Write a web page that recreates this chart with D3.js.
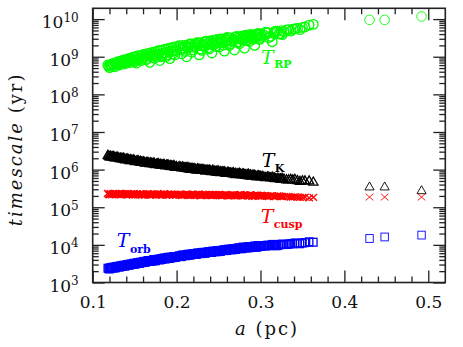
<!DOCTYPE html>
<html>
<head>
<meta charset="utf-8">
<script src="https://cdn.jsdelivr.net/npm/d3@7"></script>
<style>
  body { margin: 0; background: #fff; }
  svg { display: block; }
</style>
</head>
<body>
<div id="viz"></div>
<script>
// semi-major axis a (pc) of every star in the plot
var aVals = [
  0.118,0.120,0.122,0.124,0.126,0.128,0.130,0.132,0.134,0.136,
  0.138,0.140,0.142,0.144,0.146,0.148,0.150,0.152,0.154,0.156,
  0.158,0.160,0.162,0.164,0.166,0.168,0.170,0.172,0.174,0.176,
  0.178,0.180,0.182,0.184,0.186,0.188,0.190,0.192,0.194,0.196,
  0.198,0.200,0.203,0.206,0.209,0.212,0.215,0.218,0.221,0.224,
  0.227,0.230,0.233,0.236,0.239,0.242,0.245,0.248,0.251,0.254,
  0.257,0.260,0.263,0.266,0.269,0.272,0.275,0.278,0.281,0.284,
  0.287,0.290,0.293,0.296,0.299,0.302,0.306,0.310,0.314,0.318,
  0.322,0.326,0.331,0.336,0.341,0.347,0.353,0.358,0.363,0.430,
  0.448,0.492,
  0.119,0.121,0.123,0.125,0.127,0.129,0.131,0.133,0.135,0.137,
  0.139,0.141,0.143,0.145,0.147,0.149,0.151,0.153,0.155,0.157,
  0.159,0.161,0.163,0.165,0.167,0.169,0.171,0.173,0.175,0.177,
  0.179,0.181,0.183,0.185,0.187,0.189,0.191,0.193,0.195,0.197,
  0.199,
  0.2045,0.2075,0.2105,0.2135,0.2165,0.2195,0.2225,0.2255,0.2285,0.2315,
  0.2345,0.2375,0.2405,0.2435,0.2465,0.2495,0.2525,0.2555,0.2585,0.2615,
  0.2645,0.2675,0.2705,0.2735,0.2765,0.2795,0.2825,0.2855,0.2885,0.2915,
  0.2945,0.2975,0.3005,
  0.304,0.308,0.312,0.316,0.320,0.324,0.328,
  0.204,0.207,0.210,0.213,0.216,0.219,0.222,0.225,0.228,0.231,
  0.234,0.237,0.240,0.243,0.246,0.249,0.252,0.255,0.258,0.261,
  0.264,0.267,0.270,0.273,0.276,0.279,0.282,0.285,0.288,0.291,
  0.294,0.297,0.300,
  0.3085,0.3165,0.3245,0.3335,0.3385,0.344,0.350
];

// log10 of each timescale (yr), one value per entry of aVals
var logTRP = [
  8.78,8.71,8.76,8.82,8.73,8.79,8.87,8.78,8.83,8.91,
  8.81,8.88,8.95,8.84,8.91,8.99,8.87,8.83,9.03,8.96,
  8.90,9.06,9.00,8.92,9.09,8.85,9.03,9.12,8.96,9.06,
  9.16,8.90,9.00,9.19,9.11,9.01,9.22,8.95,9.14,9.25,
  9.05,9.17,9.29,9.08,9.20,9.00,9.33,9.12,9.25,9.37,
  9.05,9.17,9.29,9.41,9.21,9.10,9.33,9.46,9.26,9.37,
  9.15,9.51,9.30,9.41,9.18,9.54,9.35,9.45,9.23,9.58,
  9.41,9.50,9.30,9.61,9.46,9.55,9.65,9.51,9.40,9.68,
  9.61,9.59,9.71,9.68,9.74,9.72,9.79,9.84,9.86,9.98,
  9.98,10.07,
  8.75,8.79,8.75,8.79,8.84,8.78,8.83,8.88,8.82,8.86,
  8.92,8.85,8.90,8.96,8.88,8.93,9.00,8.91,8.96,9.03,
  8.93,8.99,9.06,8.95,9.02,9.10,8.98,9.05,9.13,9.01,
  9.07,9.17,9.03,9.10,9.20,9.05,9.13,9.23,9.07,9.16,
  9.26,
  9.19,9.30,9.14,9.23,9.34,9.18,9.27,9.37,9.21,9.30,
  9.41,9.24,9.33,9.44,9.28,9.37,9.47,9.31,9.40,9.50,
  9.35,9.43,9.53,9.39,9.47,9.56,9.43,9.50,9.59,9.47,
  9.53,9.61,9.51,
  9.58,9.64,9.54,9.62,9.68,9.61,9.67,
  9.28,9.23,9.30,9.26,9.33,9.29,9.35,9.31,9.37,9.33,
  9.40,9.35,9.42,9.37,9.44,9.40,9.46,9.42,9.48,9.44,
  9.50,9.46,9.52,9.49,9.54,9.51,9.56,9.53,9.58,9.55,
  9.59,9.57,9.61,
  9.64,9.66,9.69,9.72,9.73,9.76,9.78
];
var logTK = [
  6.38,6.34,6.34,6.35,6.32,6.33,6.33,6.29,6.30,6.30,
  6.27,6.28,6.28,6.24,6.25,6.25,6.23,6.23,6.24,6.20,
  6.20,6.21,6.18,6.19,6.19,6.16,6.17,6.17,6.14,6.15,
  6.16,6.12,6.13,6.13,6.11,6.12,6.12,6.09,6.10,6.10,
  6.07,6.08,6.08,6.05,6.05,6.05,6.02,6.03,6.03,5.99,
  6.00,6.00,5.98,5.98,5.99,5.95,5.96,5.96,5.93,5.94,
  5.94,5.90,5.91,5.91,5.89,5.89,5.90,5.86,5.87,5.87,
  5.84,5.85,5.85,5.81,5.82,5.82,5.79,5.80,5.80,5.76,
  5.76,5.76,5.73,5.74,5.74,5.69,5.70,5.70,5.67,5.54,
  5.54,5.44,
  6.36,6.36,6.33,6.35,6.31,6.32,6.31,6.31,6.28,6.31,
  6.26,6.28,6.26,6.27,6.24,6.26,6.21,6.23,6.22,6.22,
  6.19,6.21,6.17,6.19,6.17,6.18,6.15,6.18,6.13,6.15,
  6.14,6.14,6.12,6.14,6.10,6.12,6.10,6.11,6.08,6.11,
  6.06,
  6.07,6.07,6.04,6.06,6.01,6.03,6.01,6.02,5.99,6.01,
  5.96,5.98,5.97,5.97,5.94,5.97,5.92,5.94,5.92,5.93,
  5.90,5.92,5.87,5.89,5.88,5.88,5.85,5.88,5.83,5.85,
  5.83,5.83,5.81,
  5.81,5.80,5.78,5.78,5.77,5.75,5.75,
  6.06,6.07,6.05,6.03,6.04,6.02,6.00,6.02,6.00,5.98,
  5.99,5.98,5.96,5.98,5.95,5.93,5.95,5.93,5.91,5.93,
  5.91,5.89,5.90,5.89,5.87,5.89,5.86,5.84,5.86,5.84,
  5.82,5.84,5.82,
  5.80,5.77,5.76,5.73,5.73,5.71,5.70
];
var logTcusp = [
  5.37,5.33,5.35,5.36,5.34,5.36,5.34,5.37,5.33,5.35,
  5.36,5.33,5.36,5.34,5.36,5.32,5.34,5.35,5.33,5.35,
  5.33,5.36,5.32,5.34,5.35,5.33,5.35,5.33,5.35,5.32,
  5.34,5.35,5.32,5.34,5.35,5.32,5.35,5.33,5.34,5.32,
  5.35,5.33,5.35,5.31,5.33,5.34,5.32,5.34,5.31,5.33,
  5.35,5.31,5.33,5.32,5.34,5.31,5.33,5.32,5.34,5.30,
  5.32,5.33,5.31,5.33,5.30,5.32,5.33,5.30,5.32,5.31,
  5.33,5.29,5.31,5.32,5.30,5.31,5.30,5.28,5.31,5.29,
  5.30,5.28,5.29,5.27,5.28,5.26,5.27,5.25,5.26,5.27,
  5.27,5.27,
  5.34,5.36,5.33,5.35,5.37,5.34,5.35,5.33,5.36,5.34,
  5.35,5.37,5.33,5.35,5.34,5.36,5.33,5.35,5.34,5.36,
  5.32,5.35,5.33,5.36,5.34,5.32,5.35,5.34,5.33,5.36,
  5.33,5.35,5.33,5.36,5.33,5.34,5.32,5.35,5.33,5.34,
  5.33,
  5.34,5.32,5.35,5.33,5.31,5.34,5.32,5.35,5.31,5.33,
  5.34,5.32,5.33,5.31,5.34,5.32,5.33,5.31,5.34,5.32,
  5.31,5.33,5.31,5.32,5.34,5.30,5.32,5.31,5.33,5.30,
  5.32,5.30,5.32,
  5.31,5.29,5.30,5.28,5.30,5.29,5.28,
  5.33,5.34,5.32,5.35,5.33,5.32,5.34,5.33,5.31,5.34,
  5.32,5.33,5.31,5.34,5.32,5.33,5.31,5.33,5.32,5.30,
  5.33,5.31,5.32,5.30,5.33,5.31,5.32,5.30,5.32,5.31,
  5.29,5.31,5.30,
  5.30,5.29,5.29,5.28,5.27,5.27,5.26
];
var logTorb = [
  3.38,3.36,3.39,3.40,3.39,3.42,3.43,3.41,3.44,3.45,
  3.44,3.46,3.48,3.46,3.48,3.50,3.49,3.51,3.53,3.51,
  3.53,3.55,3.54,3.56,3.58,3.56,3.58,3.60,3.58,3.61,
  3.62,3.60,3.62,3.64,3.63,3.65,3.67,3.64,3.67,3.68,
  3.67,3.69,3.71,3.69,3.72,3.74,3.73,3.75,3.77,3.75,
  3.77,3.79,3.78,3.80,3.82,3.80,3.82,3.84,3.83,3.85,
  3.87,3.85,3.88,3.89,3.88,3.91,3.92,3.90,3.93,3.94,
  3.93,3.95,3.97,3.94,3.97,3.98,3.97,3.99,4.01,3.98,
  4.00,4.02,4.01,4.03,4.05,4.03,4.06,4.08,4.07,4.17,
  4.21,4.26,
  3.37,3.39,3.38,3.41,3.39,3.42,3.42,3.44,3.43,3.46,
  3.44,3.47,3.47,3.49,3.48,3.51,3.49,3.52,3.52,3.54,
  3.53,3.56,3.54,3.57,3.57,3.58,3.57,3.61,3.58,3.61,
  3.61,3.63,3.62,3.65,3.63,3.65,3.66,3.67,3.66,3.69,
  3.67,
  3.70,3.72,3.71,3.75,3.73,3.76,3.76,3.78,3.77,3.80,
  3.78,3.81,3.81,3.83,3.82,3.85,3.83,3.86,3.86,3.88,
  3.87,3.90,3.88,3.91,3.91,3.93,3.92,3.95,3.93,3.95,
  3.96,3.97,3.96,
  3.98,3.99,3.98,4.01,3.98,4.01,4.01,
  3.69,3.73,3.72,3.72,3.75,3.75,3.75,3.78,3.78,3.77,
  3.80,3.80,3.80,3.83,3.83,3.82,3.85,3.85,3.85,3.88,
  3.88,3.87,3.90,3.90,3.90,3.94,3.93,3.92,3.95,3.95,
  3.94,3.98,3.97,
  3.98,3.99,4.01,4.02,4.03,4.04,4.05
];

var xMajor = [0.1, 0.2, 0.3, 0.4, 0.5];
var xMinor = [0.12,0.14,0.16,0.18,0.22,0.24,0.26,0.28,0.32,0.34,0.36,0.38,
              0.42,0.44,0.46,0.48];
var yExponents = [3, 4, 5, 6, 7, 8, 9, 10];

var W = 463, H = 347;
var plotL = 92.7, plotR = 445.3, plotT = 8.3, plotB = 282.5;
var font = "DejaVu Serif";
var ink = "#222";

var x = d3.scaleLinear().domain([0.1, 0.5203]).range([plotL, plotR]);
var y = d3.scaleLog().domain([1e3, Math.pow(10, 10.287)]).range([plotB, plotT]);

var yMajor = yExponents.map(function(e) { return Math.pow(10, e); });
var yMinor = y.ticks().filter(function(v) {
    var l = Math.log10(v);
    return Math.abs(l - Math.round(l)) > 1e-6;
});

var svg = d3.select("#viz").append("svg")
    .attr("width", W).attr("height", H)
    .attr("font-family", font);

// ---- data markers ----
var marks = svg.append("g").attr("id", "marks");

// markers in the crowded band read heavier than the three lone ones
function markWidth(d) { return d.a > 0.4 ? 0.9 : 1.3; }

function series(logs) {
    return aVals.map(function(a, i) { return {a: a, t: Math.pow(10, logs[i])}; });
}
function place(d) { return "translate(" + x(d.a) + "," + y(d.t) + ")"; }

marks.append("g").selectAll("circle").data(series(logTRP)).enter()
    .append("circle")
    .attr("transform", place)
    .attr("r", 4.8)
    .attr("fill", "none").attr("stroke", "#00ff00").attr("stroke-width", markWidth);

marks.append("g").selectAll("path").data(series(logTK)).enter()
    .append("path")
    .attr("transform", place)
    .attr("d", "M0,-5L4.6,3L-4.6,3Z")
    .attr("fill", "none").attr("stroke", "#000").attr("stroke-width", markWidth);

marks.append("g").selectAll("path").data(series(logTcusp)).enter()
    .append("path")
    .attr("transform", place)
    .attr("d", "M-3.8,-3.4L3.8,3.4M-3.8,3.4L3.8,-3.4")
    .attr("fill", "none").attr("stroke", "#ff0000").attr("stroke-width", markWidth);

marks.append("g").selectAll("rect").data(series(logTorb)).enter()
    .append("rect")
    .attr("transform", place)
    .attr("x", -3.7).attr("y", -3.9).attr("width", 7.4).attr("height", 7.8)
    .attr("fill", "none").attr("stroke", "#0000ff").attr("stroke-width", markWidth);

// ---- frame and ticks ----
function styleAxis(g) {
    g.select(".domain").remove();
    g.selectAll(".tick line").attr("stroke", ink).attr("stroke-width", 1.3);
    g.attr("font-family", font);
}

svg.append("g").attr("transform", "translate(0," + plotB + ")")
    .call(d3.axisBottom(x).tickValues(xMinor).tickSize(-6).tickFormat(""))
    .call(styleAxis);
svg.append("g").attr("transform", "translate(0," + plotB + ")")
    .call(d3.axisBottom(x).tickValues(xMajor).tickSize(-12).tickPadding(13)
          .tickFormat(d3.format(".1f")))
    .call(styleAxis)
    .call(function(g) {
        g.selectAll(".tick text").attr("font-size", 17).attr("fill", "#111");
    });
svg.append("g").attr("transform", "translate(0," + plotT + ")")
    .call(d3.axisTop(x).tickValues(xMinor).tickSize(-6).tickFormat(""))
    .call(styleAxis);
svg.append("g").attr("transform", "translate(0," + plotT + ")")
    .call(d3.axisTop(x).tickValues(xMajor).tickSize(-12).tickFormat(""))
    .call(styleAxis);

svg.append("g").attr("transform", "translate(" + plotL + ",0)")
    .call(d3.axisLeft(y).tickValues(yMinor).tickSize(-6).tickFormat(""))
    .call(styleAxis);
svg.append("g").attr("transform", "translate(" + plotL + ",0)")
    .call(d3.axisLeft(y).tickValues(yMajor).tickSize(-12).tickPadding(14).tickFormat(""))
    .call(styleAxis)
    .call(function(g) {
        g.selectAll(".tick text").each(function(d) {
            var t = d3.select(this).attr("dy", "0.5em").attr("font-size", 17).attr("fill", "#111");
            t.append("tspan").text("10");
            t.append("tspan").attr("font-size", 12).attr("dy", -6.5)
                .text(Math.round(Math.log10(d)));
        });
    });
svg.append("g").attr("transform", "translate(" + plotR + ",0)")
    .call(d3.axisRight(y).tickValues(yMinor).tickSize(-6).tickFormat(""))
    .call(styleAxis);
svg.append("g").attr("transform", "translate(" + plotR + ",0)")
    .call(d3.axisRight(y).tickValues(yMajor).tickSize(-12).tickFormat(""))
    .call(styleAxis);

svg.append("rect")
    .attr("x", plotL).attr("y", plotT)
    .attr("width", plotR - plotL).attr("height", plotB - plotT)
    .attr("fill", "none").attr("stroke", ink).attr("stroke-width", 1.6);

// ---- axis titles ----
var ylab = svg.append("text")
    .attr("transform", "translate(21.7," + ((plotT + plotB) / 2 + 4) + ") rotate(-90)")
    .attr("text-anchor", "middle")
    .attr("font-size", 18).attr("letter-spacing", 2).attr("fill", "#111");
ylab.append("tspan").attr("font-style", "italic").text("timescale");
ylab.append("tspan").text(" (yr)");

var xlab = svg.append("text")
    .attr("x", (plotL + plotR) / 2 - 2).attr("y", 335)
    .attr("text-anchor", "middle")
    .attr("font-size", 18).attr("letter-spacing", 2).attr("fill", "#111");
xlab.append("tspan").attr("font-style", "italic").text("a");
xlab.append("tspan").text(" (pc)");

// ---- series labels ----
function seriesLabel(a, logT, sub, color, subDy) {
    var t = svg.append("text")
        .attr("x", x(a)).attr("y", y(Math.pow(10, logT)))
        .attr("fill", color);
    t.append("tspan").attr("font-style", "italic").attr("font-size", 19).text("T");
    t.append("tspan").attr("font-size", 11).attr("font-weight", "bold")
        .attr("dx", 0.5).attr("dy", subDy).text(sub);
}
seriesLabel(0.3006, 8.82, "RP", "#00ff00", 4.5);
seriesLabel(0.3014, 6.08, "K", "#000", 5);
seriesLabel(0.3002, 4.57, "cusp", "#ff0000", 4.5);
seriesLabel(0.1286, 3.95, "orb", "#0000ff", 6.5);
</script>
</body>
</html>
